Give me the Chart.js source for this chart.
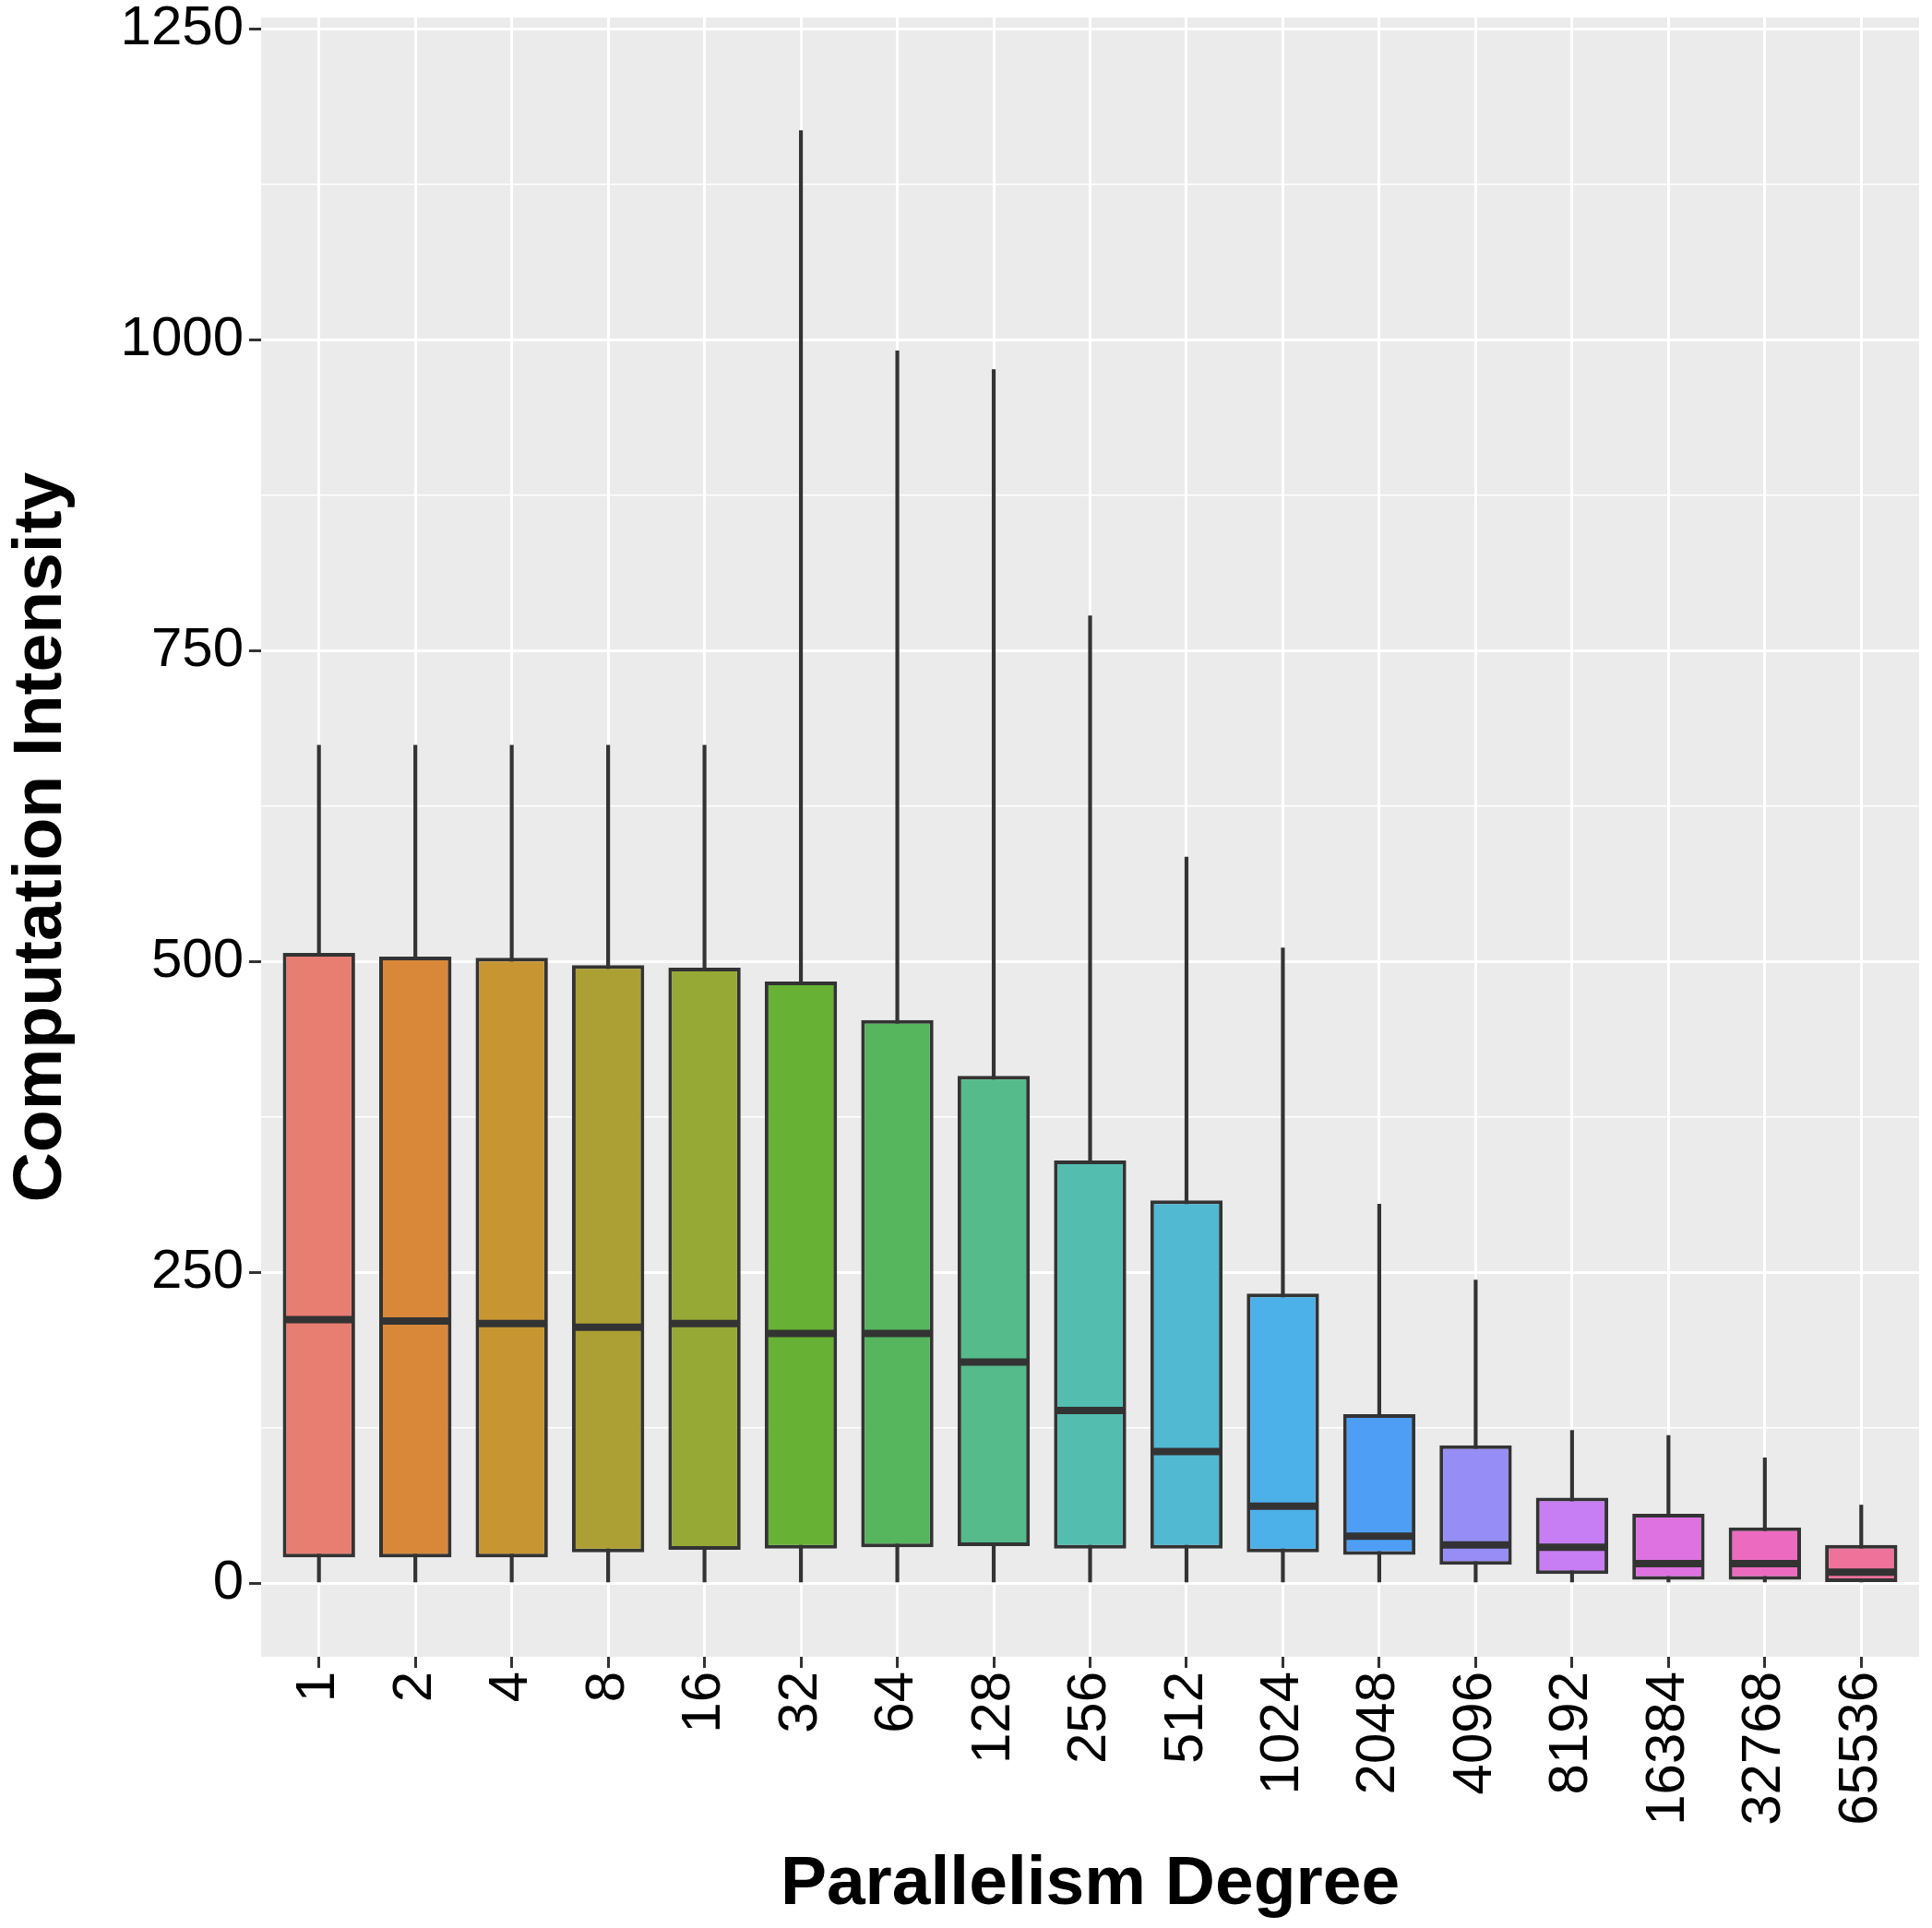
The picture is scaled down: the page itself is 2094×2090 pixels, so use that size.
<!DOCTYPE html>
<html>
<head>
<meta charset="utf-8">
<script src="https://cdn.jsdelivr.net/npm/chart.js@4/dist/chart.umd.min.js"></script>
<style>
  html, body { margin: 0; padding: 0; background: #fff; }
  #wrap { width: 2094px; height: 2090px; }
</style>
</head>
<body>
<div id="wrap"><canvas id="chartBox"></canvas></div>
<script>
// data
const categories = ['1', '2', '4', '8', '16', '32', '64', '128', '256', '512', '1024', '2048', '4096', '8192', '16384', '32768', '65536'];
const whiskerLow = [0, 0, 0, 0, 0, 0, 0, 0, 0, 0, 0, 0, 0, 0, 0, 0, 0];
const q1 = [21, 21, 21, 25, 27, 28, 29, 30, 28, 28, 25, 23, 15, 7.5, 3, 3, 1];
const median = [212, 211, 209, 206, 209, 201, 201, 178, 139, 106, 62, 38, 31, 29, 16, 16, 9];
const q3 = [507, 504, 503, 497, 495, 484, 453, 408, 340, 308, 233, 136, 111, 69, 56, 45, 31];
const whiskerHigh = [674, 674, 674, 674, 674, 1168, 991, 976, 778, 584, 511, 305, 244, 123, 119, 101, 63];
const yTicks = [0, 125, 250, 375, 500, 625, 750, 875, 1000, 1125, 1250];

const boxColors = ['#E87D72', '#D9883A', '#C79532', '#AC9F33', '#95A934', '#67B234', '#55B65E', '#55BB8A',
    '#53BDB0', '#51B9D2', '#4CB0E9', '#4E9EF5', '#978DF7', '#C77DF4', '#DE72E1', '#EC6BC0', '#EE7299'];

const panelBg = {
    id: 'panelBg',
    beforeDraw(chart) {
        const a = chart.chartArea;
        const ctx = chart.ctx;
        ctx.save();
        ctx.fillStyle = '#EBEBEB';
        ctx.fillRect(a.left, a.top, a.right - a.left, a.bottom - a.top);
        ctx.restore();
    }
};

const isMajor = v => v % 250 === 0;

new Chart(document.getElementById('chartBox'), {
    type: 'bar',
    data: {
        labels: categories,
        datasets: [
            {
                label: 'whisker',
                data: categories.map((c, i) => [whiskerLow[i], whiskerHigh[i]]),
                backgroundColor: '#333333',
                barThickness: 3.5,
                grouped: false,
                order: 3
            },
            {
                label: 'box',
                data: categories.map((c, i) => [q1[i], q3[i]]),
                backgroundColor: boxColors,
                borderColor: '#333333',
                borderWidth: 4,
                borderSkipped: false,
                barPercentage: 0.75,
                categoryPercentage: 1,
                grouped: false,
                order: 2
            },
            {
                label: 'median',
                type: 'line',
                data: median,
                showLine: false,
                pointStyle: 'line',
                pointRadius: 37,
                pointHoverRadius: 37,
                pointBorderWidth: 8,
                pointBorderColor: '#333333',
                order: 1
            }
        ]
    },
    options: {
        responsive: true,
        maintainAspectRatio: false,
        animation: false,
        events: [],
        layout: { autoPadding: false, padding: { top: 19, right: 14, left: 0, bottom: 0 } },
        plugins: {
            legend: { display: false },
            tooltip: { enabled: false }
        },
        scales: {
            x: {
                offset: false,
                grid: {
                    offset: false,
                    color: '#FFFFFF',
                    lineWidth: 3,
                    tickColor: '#333333',
                    tickWidth: 3,
                    tickLength: 12,
                    drawTicks: true
                },
                border: { display: false },
                ticks: {
                    minRotation: 90,
                    maxRotation: 90,
                    autoSkip: false,
                    padding: 4,
                    color: '#000000',
                    font: { family: 'Liberation Sans', size: 60, lineHeight: 0.1 }
                },
                title: {
                    display: true,
                    text: 'Parallelism Degree',
                    color: '#000000',
                    font: { family: 'Liberation Sans', size: 75, weight: 'bold' },
                    padding: { top: 0, bottom: 2 }
                },
                afterFit(scale) {
                    scale.height = 2090 - 1796;
                    // ggplot-style discrete expansion: 0.6 of a category on each side
                    scale._startValue = -0.6;
                    scale._valueRange = categories.length - 1 + 1.2;
                }
            },
            y: {
                min: -59,
                max: 1259,
                afterBuildTicks(scale) { scale.ticks = yTicks.map(v => ({ value: v })); },
                grid: {
                    color: '#FFFFFF',
                    lineWidth: ctx => isMajor(ctx.tick.value) ? 3 : 1.5,
                    tickColor: ctx => isMajor(ctx.tick.value) ? '#333333' : 'rgba(0,0,0,0)',
                    tickWidth: 3,
                    tickLength: 13
                },
                border: { display: false },
                ticks: {
                    padding: 6,
                    color: '#000000',
                    font: { family: 'Liberation Sans', size: 60, lineHeight: 0.1 },
                    callback: v => isMajor(v) ? String(v) : ''
                },
                title: {
                    display: true,
                    text: 'Computation Intensity',
                    color: '#000000',
                    font: { family: 'Liberation Sans', size: 75, weight: 'bold' },
                    padding: { top: 0, bottom: 0 }
                },
                afterFit(scale) {
                    scale.width = 283;
                }
            }
        }
    },
    plugins: [panelBg]
});
</script>
</body>
</html>
